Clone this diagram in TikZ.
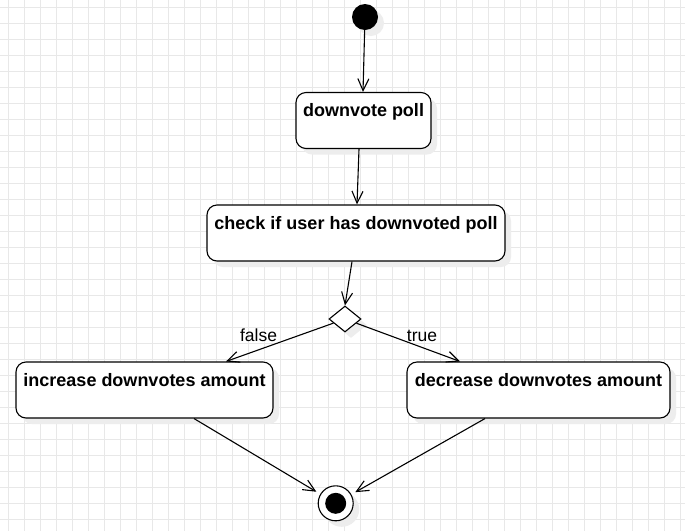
\documentclass[tikz,border=0pt]{standalone}
\usepackage{fontspec}
\setmainfont{Liberation Sans}
\usetikzlibrary{arrows.meta,shapes.geometric,shadows}
\begin{document}
\begin{tikzpicture}[x=1pt,y=-1pt,
  gridline/.style={draw=black!9, line width=0.9pt},
  shade/.style={general shadow={fill=black!7, shadow xshift=6pt, shadow yshift=-6pt}},
  actbox/.style={draw, fill=white, rounded corners=10pt, line width=1.1pt, shade,
    font=\bfseries\fontsize{18}{18}\selectfont, inner xsep=0pt, inner ysep=10pt,
    text height=14pt, text depth=22pt, minimum height=56pt},
  flow/.style={draw, line width=1.1pt, -{Straight Barb[length=12pt,width=11pt]}},
  guard/.style={font=\fontsize{17.5}{17.5}\selectfont, anchor=base, inner sep=0pt}]
\useasboundingbox (0,0) rectangle (685,531);
\fill[white] (0,0) rectangle (685,531);
\foreach \x in {8,24,...,680} \draw[gridline] (\x,0) -- (\x,531);
\foreach \y in {7,23,...,525} \draw[gridline] (0,\y) -- (685,\y);

\node[circle, fill=black, minimum size=26pt, inner sep=0pt, shade] (start) at (365,17) {};
\node[actbox, minimum width=135pt] (dp) at (363.5,120.5) {downvote poll};
\node[actbox, minimum width=298pt] (chk) at (356,233) {check if user has downvoted poll};
\node[diamond, draw, fill=white, line width=1.1pt, minimum width=32pt, minimum height=26pt, inner sep=0pt, shade] (dia) at (345,319) {};
\node[actbox, minimum width=257pt] (inc) at (144.5,390) {increase downvotes amount};
\node[actbox, minimum width=263pt] (dec) at (538.5,390) {decrease downvotes amount};
\node[circle, draw, fill=white, line width=1.1pt, minimum size=35pt, inner sep=0pt, shade] (end) at (335.7,503.3) {};
\node[circle, fill=black, minimum size=21pt, inner sep=0pt] (enddot) at (end.center) {};

\draw[flow] (start) -- ([xshift=-0.5pt]dp.north);
\draw[flow] ([xshift=-4.5pt]dp.south) -- ([xshift=1pt]chk.north);
\draw[flow] ([xshift=-4pt]chk.south) -- (dia.north);
\draw[flow] (dia) -- ([xshift=81.5pt]inc.north);
\draw[flow] (dia) -- ([xshift=-78.5pt]dec.north);
\draw[flow, shorten >=4.5pt] ([xshift=49.5pt]inc.south) -- (end);
\draw[flow, shorten >=4.5pt] ([xshift=-53.5pt]dec.south) -- (end);

\node[guard] (lf) at (258.5,341) {false};
\node[guard] (lt) at (422,341) {true};
\end{tikzpicture}
\end{document}
